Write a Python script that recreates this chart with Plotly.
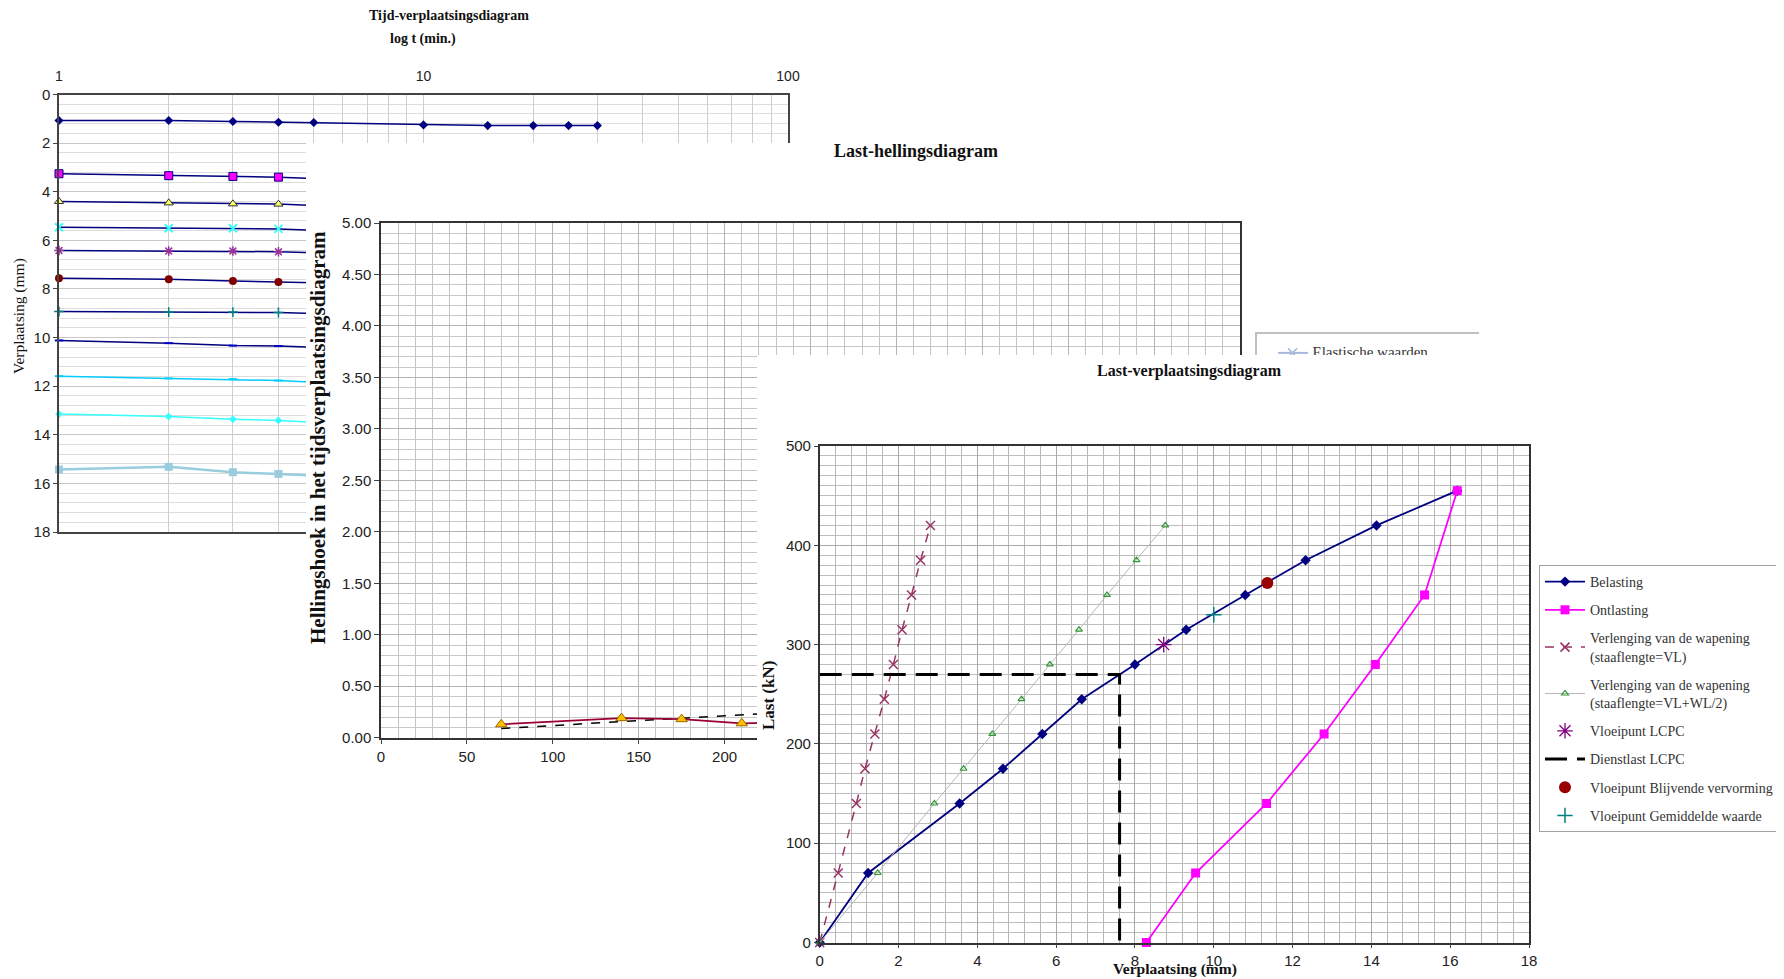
import plotly.graph_objects as go

# ---------------- data ----------------
# Tijd-verplaatsingsdiagram (time in minutes, displacement in mm)
t_full = [1, 2, 3, 4, 5, 10, 15, 20, 25, 30]
t_short = [1, 2, 3, 4, 5]
s01 = [1.07, 1.07, 1.11, 1.14, 1.15, 1.25, 1.28, 1.28, 1.28, 1.28]
s02 = [3.26, 3.34, 3.37, 3.40, 3.46]
s03 = [4.40, 4.46, 4.50, 4.51, 4.57]
s04 = [5.46, 5.50, 5.50, 5.53, 5.58]
s05 = [6.42, 6.44, 6.44, 6.47, 6.51]
s06 = [7.56, 7.60, 7.67, 7.71, 7.75]
s07 = [8.93, 8.95, 8.95, 8.97, 9.01]
s08 = [10.12, 10.23, 10.33, 10.35, 10.40]
s09 = [11.59, 11.68, 11.71, 11.77, 11.84]
s10 = [13.15, 13.25, 13.36, 13.41, 13.48]
s11 = [15.43, 15.32, 15.54, 15.61, 15.68]

# Last-hellingsdiagram
hl_last = [70, 140, 175, 210, 245]
hl_helling = [0.13, 0.19, 0.18, 0.14, 0.15]
hl_trend = [0.09, 0.155, 0.19, 0.22, 0.255]

# Last-verplaatsingsdiagram
bel_x = [0, 1.23, 3.55, 4.65, 5.65, 6.65, 8.0, 9.3, 10.8, 12.33, 14.13, 16.18]
bel_y = [0, 70, 140, 175, 210, 245, 280, 315, 350, 385, 420, 455]
ont_x = [16.18, 15.35, 14.1, 12.8, 11.34, 9.54, 8.29]
ont_y = [455, 350, 280, 210, 140, 70, 0]
vl_x = [0, 0.47, 0.93, 1.15, 1.4, 1.64, 1.87, 2.09, 2.33, 2.56, 2.81]
vl_y = [0, 70, 140, 175, 210, 245, 280, 315, 350, 385, 420]
vlwl_x = [0, 1.47, 2.91, 3.65, 4.38, 5.12, 5.84, 6.58, 7.29, 8.04, 8.77]
vlwl_y = [0, 70, 140, 175, 210, 245, 280, 315, 350, 385, 420]
lcpc_x = [8.73]
lcpc_y = [300]
dienst_x = [0, 7.61, 7.61]
dienst_y = [270, 270, 0]
blijv_x = [11.36]
blijv_y = [362]
gem_x = [10.0]
gem_y = [330]

log_tickvals = [1, 2, 3, 4, 5, 6, 7, 8, 9, 10, 20, 30, 40, 50, 60, 70, 80, 90, 100]
log_ticktext = [str(v) if v in (1, 10, 100) else "" for v in log_tickvals]

# ---------------- layout helpers ----------------
W, H = 1784, 979
OFF = 8  # page margin of the html body


def dx(a, b):
    return [max((a - OFF) / W, 0.0), min((b - OFF) / W, 1.0)]


def dy(top, bottom):
    return [max(1 - (bottom - OFF) / H, 0.0), min(1 - (top - OFF) / H, 1.0)]


SANS = "Liberation Sans"
SERIF = "Liberation Serif"
NAVY = "#000080"

fig = go.Figure()


def add(trace):
    fig.add_trace(trace)


# ---------- chart 1 : Tijd-verplaatsingsdiagram (x/y) ----------
c1 = [
    (t_full, s01, NAVY, 1.5, dict(symbol="diamond", size=7, color=NAVY)),
    (t_short, s02, NAVY, 1.5, dict(symbol="square", size=8, color="#FF00FF", line=dict(color=NAVY, width=1))),
    (t_short, s03, NAVY, 1.5, dict(symbol="triangle-up", size=8, color="#FFFF66", line=dict(color="#333333", width=1))),
    (t_short, s04, NAVY, 1.5, dict(symbol="x-thin-open", size=8, color="#33FFFF", line=dict(color="#33FFFF", width=2))),
    (t_short, s05, NAVY, 1.5, dict(symbol="asterisk-open", size=8, color="#993399", line=dict(color="#993399", width=1.5))),
    (t_short, s06, NAVY, 1.5, dict(symbol="circle", size=8, color="#800000")),
    (t_short, s07, NAVY, 1.5, dict(symbol="cross-thin-open", size=7, color="#008080", line=dict(color="#008080", width=1.5))),
    (t_short, s08, NAVY, 1.5, dict(symbol="line-ew-open", size=6, color="#0000CC", line=dict(color="#0000CC", width=2))),
    (t_short, s09, "#00CCFF", 1.5, dict(symbol="line-ew-open", size=6, color="#00CCFF", line=dict(color="#00CCFF", width=2))),
    (t_short, s10, "#33FFFF", 1.5, dict(symbol="diamond", size=6, color="#33FFFF")),
    (t_short, s11, "#99CCDD", 2.5, dict(symbol="square", size=8, color="#99CCDD")),
]
for xs, ys, lc, lw, mk in c1:
    add(go.Scatter(x=xs, y=ys, mode="lines+markers", line=dict(color=lc, width=lw), cliponaxis=False,
                   marker=mk, xaxis="x", yaxis="y", showlegend=False, hoverinfo="skip"))

# ---------- cover panel 2 (x2/y2) ----------
add(go.Scatter(x=[None], y=[None], xaxis="x2", yaxis="y2", showlegend=False, hoverinfo="skip"))

# ---------- chart 2 : Last-hellingsdiagram (x3/y3) ----------
add(go.Scatter(x=hl_last, y=hl_trend, mode="lines", line=dict(color="black", width=1.5, dash="dash"),
               xaxis="x3", yaxis="y3", showlegend=False, hoverinfo="skip"))
add(go.Scatter(x=hl_last, y=hl_helling, mode="lines+markers", line=dict(color="#990033", width=1.8),
               marker=dict(symbol="triangle-up", size=10, color="#FFC000", line=dict(color="#996600", width=1)),
               xaxis="x3", yaxis="y3", showlegend=False, hoverinfo="skip"))

# ---------- legend fragment of chart 2 (x4/y4) ----------
add(go.Scatter(x=[0.095, 0.23], y=[0.1, 0.1], mode="lines", line=dict(color="#A8B8DC", width=2),
               xaxis="x4", yaxis="y4", showlegend=False, hoverinfo="skip"))
add(go.Scatter(x=[0.16], y=[0.1], mode="markers",
               marker=dict(symbol="x-thin-open", size=9, color="#A8B8DC", line=dict(color="#A8B8DC", width=1.5)),
               xaxis="x4", yaxis="y4", showlegend=False, hoverinfo="skip"))
add(go.Scatter(x=[0.25], y=[0.1], mode="text", text=["Elastische waarden"], textposition="middle right",
               textfont=dict(family=SERIF, size=15, color="#333333"), cliponaxis=True,
               xaxis="x4", yaxis="y4", showlegend=False, hoverinfo="skip"))

# ---------- cover panel 3 (x5/y5) ----------
add(go.Scatter(x=[None], y=[None], xaxis="x5", yaxis="y5", showlegend=False, hoverinfo="skip"))

# ---------- chart 3 : Last-verplaatsingsdiagram (x6/y6) ----------
add(go.Scatter(x=bel_x, y=bel_y, mode="lines+markers", name="Belasting", legendgroup="g1",
               line=dict(color=NAVY, width=1.8), marker=dict(symbol="diamond", size=8, color=NAVY),
               cliponaxis=False, xaxis="x6", yaxis="y6", hoverinfo="skip"))
add(go.Scatter(x=ont_x, y=ont_y, mode="lines+markers", name="Ontlasting", legendgroup="g2",
               line=dict(color="#FF00FF", width=1.8), marker=dict(symbol="square", size=9, color="#FF00FF"),
               cliponaxis=False, xaxis="x6", yaxis="y6", hoverinfo="skip"))
add(go.Scatter(x=vl_x, y=vl_y, mode="lines+markers", name="Verlenging van de wapening<br>(staaflengte=VL)",
               legendgroup="g3", line=dict(color="#993366", width=1.5, dash="dash"),
               marker=dict(symbol="x-thin-open", size=9, color="#993366", line=dict(color="#993366", width=1.5)),
               cliponaxis=False, xaxis="x6", yaxis="y6", hoverinfo="skip"))
add(go.Scatter(x=vlwl_x, y=vlwl_y, mode="lines+markers", name="Verlenging van de wapening<br>(staaflengte=VL+WL/2)",
               legendgroup="g4", line=dict(color="#B8B8B8", width=1),
               marker=dict(symbol="triangle-up-open", size=6, color="#339933", line=dict(color="#339933", width=1.2)),
               cliponaxis=False, xaxis="x6", yaxis="y6", hoverinfo="skip"))
add(go.Scatter(x=lcpc_x, y=lcpc_y, mode="markers", name="Vloeipunt LCPC", legendgroup="g5",
               marker=dict(symbol="asterisk-open", size=13, color="#800080", line=dict(color="#800080", width=1.3)),
               xaxis="x6", yaxis="y6", hoverinfo="skip"))
add(go.Scatter(x=dienst_x, y=dienst_y, mode="lines", name="Dienstlast LCPC", legendgroup="g6",
               line=dict(color="black", width=3, dash="22px,10px"),
               xaxis="x6", yaxis="y6", hoverinfo="skip"))
add(go.Scatter(x=blijv_x, y=blijv_y, mode="markers", name="Vloeipunt Blijvende vervorming", legendgroup="g7",
               marker=dict(symbol="circle", size=12, color="#990000"),
               xaxis="x6", yaxis="y6", hoverinfo="skip"))
add(go.Scatter(x=gem_x, y=gem_y, mode="markers", name="Vloeipunt Gemiddelde waarde", legendgroup="g8",
               marker=dict(symbol="cross-thin-open", size=11, color="#008080", line=dict(color="#008080", width=1.5)),
               xaxis="x6", yaxis="y6", hoverinfo="skip"))

tickfont = dict(family=SANS, size=15, color="#222222")
hidden = dict(visible=False, range=[0, 1], fixedrange=True, automargin=False)

fig.update_layout(
    width=W, height=H, autosize=False,
    margin=dict(l=0, r=0, t=0, b=0, pad=0, autoexpand=False),
    paper_bgcolor="white", plot_bgcolor="white",
    # chart 1
    xaxis=dict(type="log", range=[0, 2], domain=dx(59, 788), anchor="y", side="top", automargin=False,
               tickvals=log_tickvals, ticktext=log_ticktext, showgrid=True, gridcolor="#CFCFCF",
               showline=True, linecolor="#444444", linewidth=1.5, mirror=True, ticks="", ticklabelstandoff=6,
               tickfont=dict(family=SANS, size=14, color="#222222"), zeroline=False),
    yaxis=dict(range=[18, 0], domain=dy(94.5, 532), anchor="x", dtick=2, showgrid=True, gridcolor="#C8C8C8",
               minor=dict(dtick=0.4, showgrid=True, gridcolor="#DDDDDD"), automargin=False,
               showline=True, linecolor="#444444", linewidth=1.5, mirror=True, ticks="outside", ticklen=4,
               tickfont=dict(family=SANS, size=15, color="#222222"), zeroline=False),
    # cover 2
    xaxis2=dict(domain=dx(306, W + OFF), anchor="y2", **hidden),
    yaxis2=dict(domain=dy(143, H + OFF), anchor="x2", **hidden),
    # chart 2
    xaxis3=dict(range=[0, 500], domain=dx(381, 1240), anchor="y3", dtick=50, showgrid=True, gridcolor="#B4B4B4",
                minor=dict(dtick=10, showgrid=True, gridcolor="#C4C4C4"), automargin=False,
                showline=True, linecolor="#333333", linewidth=1.5, mirror=True, ticks="outside", ticklen=5,
                tickfont=tickfont, zeroline=False),
    yaxis3=dict(range=[0, 5], domain=dy(223, 737.7), anchor="x3", dtick=0.5, tickformat=".2f",
                showgrid=True, gridcolor="#B4B4B4", automargin=False,
                minor=dict(dtick=0.1, showgrid=True, gridcolor="#C8C8C8"),
                showline=True, linecolor="#333333", linewidth=1.5, mirror=True, ticks="outside", ticklen=5,
                tickfont=tickfont, zeroline=False),
    # legend fragment
    xaxis4=dict(domain=dx(1257, 1479), anchor="y4", range=[0, 1], side="top", showline=True, linecolor="#C0C0C0",
                linewidth=2, showgrid=False, showticklabels=False, ticks="", zeroline=False, fixedrange=True,
                automargin=False),
    yaxis4=dict(domain=dy(334, 355), anchor="x4", range=[0, 1], showline=True, linecolor="#C0C0C0",
                linewidth=2, showgrid=False, showticklabels=False, ticks="", zeroline=False, fixedrange=True,
                automargin=False),
    # cover 3
    xaxis5=dict(domain=dx(757, W + OFF), anchor="y5", **hidden),
    yaxis5=dict(domain=dy(355, H + OFF), anchor="x5", **hidden),
    # chart 3
    xaxis6=dict(range=[0, 18], domain=dx(819.7, 1529), anchor="y6", dtick=2, showgrid=True, gridcolor="#A8A8A8",
                minor=dict(dtick=0.4, showgrid=True, gridcolor="#B8B8B8"), automargin=False,
                showline=True, linecolor="#333333", linewidth=1.5, mirror=True, ticks="outside", ticklen=4,
                tickfont=tickfont, zeroline=False),
    yaxis6=dict(range=[0, 500], domain=dy(446, 942.5), anchor="x6", dtick=100, showgrid=True, gridcolor="#A8A8A8",
                minor=dict(dtick=10, showgrid=True, gridcolor="#BDBDBD"), automargin=False,
                showline=True, linecolor="#333333", linewidth=1.5, mirror=True, ticks="outside", ticklen=4,
                tickfont=tickfont, zeroline=False),
    legend=dict(x=(1539 - OFF) / W, y=1 - (565 - OFF) / H, xanchor="left", yanchor="top", bgcolor="white",
                bordercolor="#A0A0A0", borderwidth=1, traceorder="grouped", tracegroupgap=7,
                font=dict(family=SERIF, size=14, color="#333333"), itemwidth=40),
    showlegend=True,
)


def ann(text, x, y, size, bold=False, angle=0, color="#111111"):
    fig.add_annotation(text=f"<b>{text}</b>" if bold else text, x=(x - OFF) / W, y=1 - (y - OFF) / H,
                       xref="paper", yref="paper",
                       showarrow=False, textangle=angle, xanchor="center", yanchor="middle",
                       font=dict(family=SERIF, size=size, color=color))


ann("Tijd-verplaatsingsdiagram", 449, 15, 14, bold=True)
ann("log t (min.)", 423, 39, 14, bold=True)
ann("Verplaatsing (mm)", 19, 316, 15.5, angle=-90)
ann("Last-hellingsdiagram", 916, 151, 18, bold=True)
ann("Hellingshoek in het tijdsverplaatsingsdiagram", 318, 438, 21, bold=True, angle=-90)
ann("Last-verplaatsingsdiagram", 1189, 371, 16, bold=True)
ann("Verplaatsing (mm)", 1175, 969, 15.5, bold=True)
ann("Last (kN)", 768, 696, 17, bold=True, angle=-90)

fig.write_html("out.html")
